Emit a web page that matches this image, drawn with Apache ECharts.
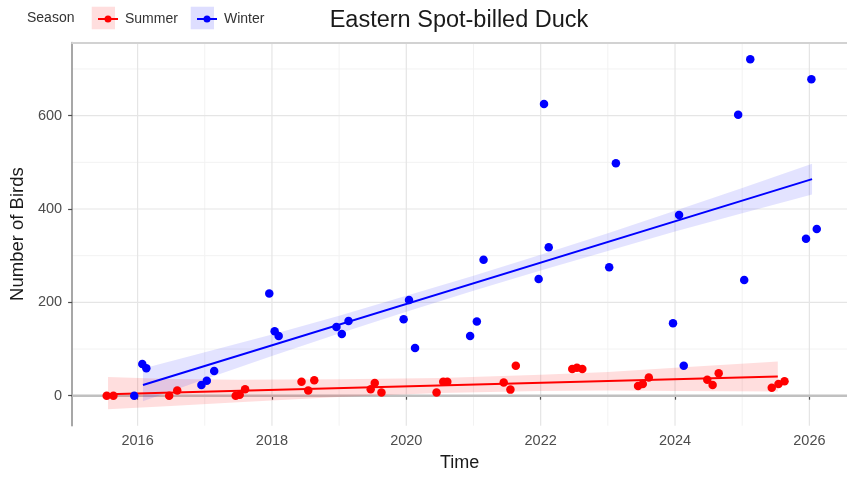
<!DOCTYPE html>
<html>
<head>
<meta charset="utf-8">
<script src="https://cdn.jsdelivr.net/npm/echarts@6/dist/echarts.min.js"></script>
<style>html,body{margin:0;padding:0;background:#fff}#c{width:847px;height:477px}</style>
</head>
<body>
<div id="c"></div>
<script>
// ---- data ----
const winterTime  = [2015.95,2016.07,2016.13,2016.95,2017.03,2017.14,2017.96,2018.04,2018.10,2018.96,2019.04,2019.14,2019.96,2020.04,2020.13,2020.95,2021.05,2021.15,2021.97,2022.05,2022.12,2023.02,2023.12,2023.97,2024.06,2024.13,2024.94,2025.03,2025.12,2025.95,2026.03,2026.11];
const winterBirds = [0,68,59,23,32,53,219,138,128,147,132,160,164,205,102,128,159,291,250,625,318,275,498,155,387,64,602,248,721,336,678,357];
const summerTime  = [2015.54,2015.64,2016.47,2016.59,2017.46,2017.52,2017.60,2018.44,2018.54,2018.63,2019.47,2019.53,2019.63,2020.45,2020.55,2020.61,2021.45,2021.55,2021.63,2022.47,2022.54,2022.62,2023.45,2023.52,2023.61,2024.48,2024.56,2024.65,2025.44,2025.54,2025.63];
const summerBirds = [0,0,0,11,0,2,14,30,11,33,14,27,7,7,30,30,28,13,64,57,60,57,21,25,39,34,23,48,17,25,31];

// fitted trend lines (end points) and confidence ribbons
const winterFitTime  = [2016.08, 2026.04];
const winterFitBirds = [23, 464];
const summerFitTime  = [2015.56, 2025.53];
const summerFitBirds = [3, 41];

const winterBandTime  = [2016.08,2017,2018,2019,2020,2021,2022,2023,2024,2025,2026.04];
const winterBandLow   = [-12,35,85,133,180,225,268,310,352,391,431];
const winterBandHigh  = [58,93,131,171,214,257,302,348,396,445,497];
const summerBandTime  = [2015.56,2016.5,2017.5,2019,2020.5,2022,2023,2024,2025.53];
const summerBandLow   = [-29,-22,-14,-3,6,10,11,10,9];
const summerBandHigh  = [40,36,34,35,38,45,51,60,73];

const xTickValues = [2016,2018,2020,2022,2024,2026];
const xMinorValues = [2017,2019,2021,2023,2025];
const yTickValues = [0,200,400,600];
const yMinorValues = [100,300,500,700];
const zeroLine = 0;

const title = 'Eastern Spot-billed Duck';
const xName = 'Time';
const yName = 'Number of Birds';
const legendTitle = 'Season';

// ---- chart ----
const FONT = '"Liberation Sans", Arial, sans-serif';
const X_MIN = 2015.025, X_MAX = 2026.56, Y_MIN = -64.3, Y_MAX = 756.7;
const zip = (a, b) => a.map((v, i) => [v, b[i]]);

function bandSeries(name, t, lo, hi, fill) {
  return {
    name: name, type: 'custom', z: 2, silent: true,
    data: t.map((v, i) => [v, lo[i], hi[i]]),
    renderItem: function (params, api) {
      if (params.dataIndex !== 0) return null;
      const pts = [];
      for (let i = 0; i < t.length; i++) pts.push(api.coord([t[i], hi[i]]));
      for (let i = t.length - 1; i >= 0; i--) pts.push(api.coord([t[i], lo[i]]));
      return { type: 'polygon', shape: { points: pts }, style: { fill: fill } };
    },
    encode: { x: 0, y: [1, 2] }
  };
}

// gridlines / reference line drawn through the axis scales
// kind: 0 = vertical (x value), 1 = horizontal (y value)
function ruleSeries(name, items, z) {
  return {
    name: name, type: 'custom', z: z, silent: true, clip: false,
    data: items.map(it => [it.kind, it.value, it.width]),
    dimensions: ['kind', 'value', 'width'],
    encode: { x: [], y: [] },
    renderItem: function (params, api) {
      const it = items[params.dataIndex];
      const cs = params.coordSys;
      let shape;
      if (it.kind === 0) {
        const p = api.coord([it.value, Y_MIN]);
        shape = { x1: p[0], y1: cs.y, x2: p[0], y2: cs.y + cs.height };
      } else {
        const p = api.coord([X_MIN, it.value]);
        shape = { x1: cs.x, y1: p[1], x2: cs.x + cs.width, y2: p[1] };
      }
      return { type: 'line', shape: shape, style: { stroke: it.color, lineWidth: it.width } };
    }
  };
}

const gridItems = [];
xMinorValues.forEach(v => gridItems.push({ kind: 0, value: v, color: '#f2f2f2', width: 1 }));
yMinorValues.forEach(v => gridItems.push({ kind: 1, value: v, color: '#f2f2f2', width: 1 }));
xTickValues.forEach(v => gridItems.push({ kind: 0, value: v, color: '#e5e5e5', width: 1.2 }));
yTickValues.forEach(v => gridItems.push({ kind: 1, value: v, color: '#e5e5e5', width: 1.2 }));
const zeroItems = [{ kind: 1, value: zeroLine, color: '#c0c0c0', width: 2.4 }];

const LEG_ICON = 'path://M0,3.1L20,3.1L20,4.9L0,4.9Z M13.5,4A3.5,3.5,0,1,1,6.5,4A3.5,3.5,0,1,1,13.5,4Z';

const chart = echarts.init(document.getElementById('c'), null, { renderer: 'canvas' });
chart.setOption({
  animation: false,
  backgroundColor: '#ffffff',
  textStyle: { fontFamily: FONT },
  title: {
    text: title, left: 454, top: 4, textAlign: 'center',
    textStyle: { fontFamily: FONT, fontSize: 23.5, fontWeight: 'normal', color: '#1a1a1a' }
  },
  legend: [
    { data: ['Summer'], left: 93, top: 7, icon: LEG_ICON, itemWidth: 20, itemHeight: 8,
      textStyle: { fontFamily: FONT, fontSize: 14, color: '#333', padding: [0, 0, 0, 2] }, selectedMode: false },
    { data: ['Winter'], left: 192, top: 7, icon: LEG_ICON, itemWidth: 20, itemHeight: 8,
      textStyle: { fontFamily: FONT, fontSize: 14, color: '#333', padding: [0, 0, 0, 2] }, selectedMode: false }
  ],
  graphic: [
    { type: 'rect', left: 91.7, top: 6.7, shape: { width: 23.3, height: 22.6 }, style: { fill: 'rgba(255,0,0,0.13)' }, z: -1 },
    { type: 'rect', left: 190.7, top: 6.7, shape: { width: 23.3, height: 22.6 }, style: { fill: 'rgba(0,0,255,0.13)' }, z: -1 },
    { type: 'text', left: 27, top: 11.5, style: { text: legendTitle, font: '14px ' + FONT, fill: '#333' } }
  ],
  grid: { left: 68.5, right: 0, top: 42.5, bottom: 51.3, containLabel: false },
  xAxis: [
    {
      type: 'value', min: X_MIN, max: X_MAX,
      name: xName, nameLocation: 'middle', nameGap: 28,
      nameTextStyle: { fontFamily: FONT, fontSize: 18, color: '#1a1a1a' },
      axisLine: { show: true, lineStyle: { color: '#4d4d4d', width: 1.5 } },
      axisTick: { show: true, length: 4, customValues: xTickValues, lineStyle: { color: '#4d4d4d', width: 1.2 } },
      axisLabel: { customValues: xTickValues, margin: 8, fontFamily: FONT, fontSize: 14.5, color: '#4d4d4d',
                   formatter: v => String(Math.round(v)) },
      splitLine: { show: false }
    },
    {
      type: 'value', position: 'top', min: X_MIN, max: X_MAX,
      axisLine: { show: true, lineStyle: { color: '#d2d2d2', width: 2 } },
      axisTick: { show: false }, axisLabel: { show: false }, splitLine: { show: false }
    }
  ],
  yAxis: {
    type: 'value', min: Y_MIN, max: Y_MAX,
    name: yName, nameLocation: 'middle', nameGap: 43, nameRotate: 90,
    nameTextStyle: { fontFamily: FONT, fontSize: 18.5, color: '#1a1a1a' },
    axisLine: { show: true, lineStyle: { color: '#8a8a8a', width: 1.5 } },
    axisTick: { show: true, length: 4, customValues: yTickValues, lineStyle: { color: '#4d4d4d', width: 1.2 } },
    axisLabel: { customValues: yTickValues, margin: 10, fontFamily: FONT, fontSize: 14.5, color: '#4d4d4d' },
    splitLine: { show: false }
  },
  series: [
    ruleSeries('grid', gridItems, 0),
    ruleSeries('zero', zeroItems, 1),
    bandSeries('summerBand', summerBandTime, summerBandLow, summerBandHigh, 'rgba(255,0,0,0.13)'),
    bandSeries('winterBand', winterBandTime, winterBandLow, winterBandHigh, 'rgba(0,0,255,0.11)'),
    { name: 'summerFit', type: 'line', data: zip(summerFitTime, summerFitBirds), symbol: 'none', z: 3,
      lineStyle: { color: '#ff0000', width: 2 }, silent: true },
    { name: 'winterFit', type: 'line', data: zip(winterFitTime, winterFitBirds), symbol: 'none', z: 3,
      lineStyle: { color: '#0000ff', width: 2 }, silent: true },
    { name: 'Summer', type: 'scatter', data: zip(summerTime, summerBirds), symbol: 'circle', symbolSize: 8.5, z: 4,
      itemStyle: { color: '#ff0000', opacity: 1 } },
    { name: 'Winter', type: 'scatter', data: zip(winterTime, winterBirds), symbol: 'circle', symbolSize: 8.5, z: 4,
      itemStyle: { color: '#0000ff', opacity: 1 } }
  ]
});
</script>
</body>
</html>
